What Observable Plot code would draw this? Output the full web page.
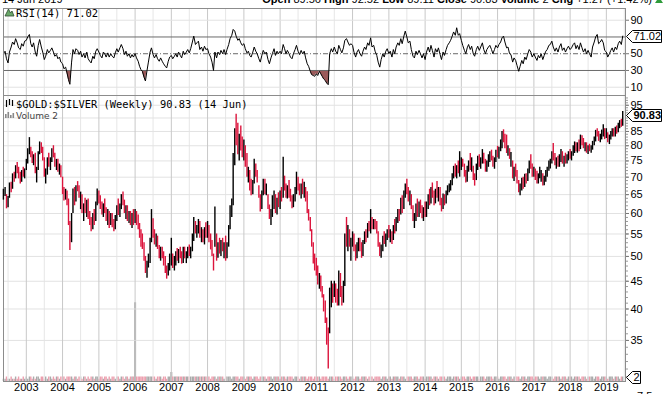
<!DOCTYPE html>
<html>
<head>
<meta charset="utf-8">
<script src="https://cdn.jsdelivr.net/npm/d3@7"></script>
<script src="https://cdn.jsdelivr.net/npm/@observablehq/plot@0.6"></script>
<style>
  html, body { margin: 0; padding: 0; background: #fff; }
  #chart { position: relative; width: 665px; height: 394px; overflow: hidden; background: #fff; }
  #chart svg { position: absolute !important; left: 0; top: 0; background: transparent !important; max-width: none !important; }
</style>
</head>
<body>
<div id="chart"></div>
<script>
// ---------- DATA (semi-monthly) ----------
const yearLabels = [2003,2004,2005,2006,2007,2008,2009,2010,2011,2012,2013,2014,2015,2016,2017,2018,2019];
const priceTicks = [35,40,45,50,55,60,65,70,75,80,85,95];
const priceGrid  = [35,40,45,50,55,60,65,70,75,80,85,90,95];
const rsiTicks = [90,50,30,10];
const rsiBands = [30,70];
const rsiMid = [50];
const rsiGrid = [10,90];

const lows = [
 63.5,64.5,61.2,61.5,64,65.5,66.5,68.5,69.5,71,69.5,68,68.5,70,69.5,
 72,74,77,76,74.2,73.5,71,68.3,72,77,77.4,75,70,68,70.6,73,72,74.5,76,73,72,71.5,70.6,69.8,
 65,63.3,63.5,62,57,51.3,53,60,62,63,65.8,64,61,60,58,60,59,58.5,57,55.5,56,57,58,62,
 62.5,61,59.6,59,60,58,57,56.3,57,56.5,55.5,56,58,59.5,59,61,62,60,58.5,58,57.5,57,56.3,57,
 57.5,57,56,54,52,51.5,49,46.5,45.6,47.6,48.5,53,54,52.5,52,51.5,49.5,49,49.5,48,46.5,45.4,46,47,
 48,47.5,47,48,49,48.5,49.5,48.4,48.5,49.5,48.5,49.5,50,49.5,51,53.3,55,54,55,54,53,53,52.5,54,
 54,53,51.4,50,47,52,49,49.6,50.5,50,51,49.5,49,49.5,52,56,59,62,73.5,80,77,75,78.2,76,
 75,73,70,68.3,66,64.7,65,68,70,68.3,64,60.4,61,64.7,65,64.7,61,58.5,57,59,61,60,59.6,61.5,
 61,63,64,66,64,63.8,64,63,61.2,61.5,63,65,66,64.7,63.8,65,64,63,60,58.1,55.5,52,48.4,47,
 46,44.3,43.5,43,41.9,39.5,37.6,34.3,31,36,40.2,41,42,41,40.5,40.5,42,40.5,41,44,52,51,52,49,
 52,51,49,49.5,51,51,49.6,50,52.6,53,54,55.5,55,56,56,56,55,52,50,49.6,51,52.6,52,53.5,
 54,53,52.6,53.5,55,55.5,57.5,58,59.6,60,61,64,65,63,62,61,58,56.3,58,59,59,60,58.7,58,
 59,59,61,62,62.5,64,62,62.5,64,63,62,60.4,61,62,62.5,64.7,65.5,66,67.5,69.5,70,69.5,71,70,
 72,73,70,68.3,68.5,71.5,72,71.5,69,67.4,69,72,73,72.4,74,74,71.5,71.5,73,74.5,75,73,72.4,74.5,
 76,75.5,78,79,81,79,77.4,76.5,75.5,73,69.5,68.7,70,68,65.5,64.7,66,66.5,67,68,68.7,71,72.4,70,
 70,69,68,68,69.5,68.5,67.4,67.5,68.5,70,71.8,72.5,74,75,73.5,72.4,73,73,74.5,74,73,74,74,75,
 75.5,75,76.5,77.4,78,77.5,78,78.7,80,79,78,77.5,77.1,78,77.5,78.5,80,81.3,83,81.5,81,82,83,82.1,
 82.5,81,80.4,82,83,83,83,84,84.5,86,86.5,86.9
];
const highs = [
 66.5,67,65,64.5,68.3,68.5,71,71.5,73.5,74.5,73,71.5,72,73,72.5,
 75.5,79,82.8,79.5,78,77,77.5,73,78,81.3,81,79.5,76,72.5,76,77.5,76,79,80,77.5,75.5,75.5,74,73.5,
 70,67,66.5,66,63.8,58,60,66.6,67,67.5,68.7,67.5,65.7,65,62.5,64,63.5,63.8,60.5,59,60,61,63,66.6,
 66,64.7,63,62.5,63.8,61.5,61,60.5,60,60,58.5,59.5,62,63.8,62.5,65,65.7,63.5,62,62,60.5,60.5,60,61,
 61,60.5,59.6,57.5,56,55,53,50,49,50.5,54,61,58.7,56,55,54.5,52.4,52,52,51,50,48,48.5,50.5,
 54,50.5,50,51,51.7,51.5,52,51,52,52,51,52,52.5,52,55,59,58,57,58.5,58,56.5,56,56.5,57.7,
 58,57,55,53.5,50.5,61.7,55,53,54,53.5,54,53,54.5,53,57,62,63.8,77.4,86,91.4,88,84,87,83,
 82,80,77.4,73,72,69.4,69,75.5,74,72,67.5,65,66,69.4,69.4,68,65,62.2,61,64.7,66,65,64,65.5,
 66,67,76.2,70.3,68,67.5,69,66.5,64.7,65,67,71.5,70,68,68,69.4,68.5,67,65.8,61,59,56,53,50.5,
 49.6,48,46.5,46,44,42.5,41.4,38.5,36.9,43.7,45,44.5,45,44.5,43.5,47,46.5,44,45,55,59,57,56,54,
 55.5,55,52.5,53,54,54,53,53.5,55.5,56,57.5,58,61,59,58.5,58.5,58,55.5,53,52.5,54.5,55.5,55,56,
 57,56,55.5,57,58.5,59,61,61,64,64.7,66,68,69.4,67,66,65,62,60,62.5,63.8,63,63.5,62,61.5,
 63,63,65,66.5,67,68.3,66,66.5,68.7,67,67,64,65.2,65,66,67.5,68,69,71,73.3,74,73.5,75,78,
 76,75.5,74,72,73.3,75,77.4,76,73.3,71,74,76.5,77,76,78.7,77.5,75.5,75,77,78,78.5,76.5,76,78.5,
 79.8,79.5,82,85,85.6,84,83.7,80,79,77.7,75,73,74,72,69,68,69.7,70,70.9,71,72.5,75,77,74,
 73,72.5,71.8,71,73,72,71,70.3,72,73,75,75.5,78,80.8,77.4,76,76.5,77,78.7,78,76.5,77.5,77,78,
 78.7,78,80,81.3,81,81,82,83.7,83.5,82.5,81,81,80,80.5,80,81.5,83,85.4,86,85,84,85.5,87.5,86,
 86,84.5,83.7,85,86,86,86.5,87,88,89,89.5,92.5
];
const closes = [
 65.5,66.5,62,64,67.5,66.5,70.5,69.5,73,72,70,69,71.5,70.5,72,
 75,78.5,79,76.5,75,76,72,72.5,77.5,80.5,78,76,71,71.5,75.5,74,75.5,78.5,77,74.5,75,72,73.5,71,
 66,64,65.5,62.5,58,53,59.5,65.5,63,67,66.5,64.5,65,61,62,60.5,63,59.5,58,56.5,59.5,58,62.5,64,
 63,62,60,62,61,59,60.5,57,59.5,57,56.5,59,61.5,60,62,64.5,63,60.5,61.5,58.5,60,57.5,59.5,58,
 59.5,57.5,56.5,54.5,53,52,49.5,47,48.5,50,53.5,57,55,53,54.5,52,51.5,51.8,50,49,47,46,48,49.5,
 50,48,49.5,50.5,49.5,51,50,49,51.5,50,50.5,51.5,50.5,51.5,54.5,57,55.5,56.5,57.5,54.5,55.5,53.5,56,55,
 56.5,53.5,52,51,48,56,50,52.5,51,53,51.5,52.5,50,52.5,56.5,61.5,63,75,84,82,79,82.5,80,78,
 80,74,71,72,67,66,68.5,73,71,69,64.5,62,65.5,68,66,67.5,61.5,59,60.5,62,65.5,61,63.5,62.5,
 65.5,64,69,67,64.5,67,65,63.5,62,64.5,66.5,70,67,65.5,67.5,66,68,63.5,60.5,58.5,56,52.5,50,48,
 47,45,46,43.5,42.5,40,38,35,32.7,41,42.5,41.5,44.5,42,41,46,43,41.5,44.5,54,53,55.5,52.5,53.5,
 54.5,51.5,50,52.5,53.5,51.5,50.5,53,55,54,57,56.5,57.5,56.5,58,56.5,55.5,52.5,50.5,52,54,53,54.5,55.5,
 54.5,55.5,53.5,56.5,56,58.5,60.5,59,63,61,65.5,67.5,66,64,65.5,61.5,58.5,59.5,62,60,62.5,61,59.5,61,
 59.5,62.5,64.5,63,66.5,65,62.5,66,65,66.5,63,61,64.5,63,65.5,67,67.5,68.5,70.5,72.5,71,73,72,74.5,
 75.5,73.5,71,69,72.5,74.5,73,75,70,69,73.5,75.5,74,75.5,78,74.5,72,74.5,76.5,77.5,76,73.5,75.5,78,
 77,79,81.5,84,82,80.5,78,79.5,76,76.5,70,72.5,71,68.5,66,67.5,69,67,70.5,69,72,74.5,73.5,71,
 72.5,70,68.5,70.5,71,71.5,68,69.5,71.5,72.5,74.5,75,77.5,76,74,75.5,73.5,76.5,78,75,76,74.5,76.5,77.5,
 77,77.5,79.5,80.5,78.5,80.5,79,82.5,81,79.5,80.5,78,79.5,78.5,79.5,81,82.5,84.5,83.5,82,83.5,85,86,84,
 84.5,82,83,84.5,85.5,83.5,86,85,87.5,88.5,87.5,90.83
];
const rsi14 = [
 50,53,44,39,52,58,64,61,68,63,57,55,62,59,65,
 66,70,73,62,58,63,52,47,60,67,58,52,43,47,55,51,54,57,52,47,49,44,46,40,
 38,32,34,27,19,13.5,40,55,50,56,54,49,53,46,50,45,52,44,41,39,47,44,53,56,
 52,48,45,52,50,46,51,46,50,47,45,51,56,52,57,61,56,49,53,47,50,45,49,46,
 50,45,41,35,31,29,22,17.5,30,40,52,57,49,45,49,44,41,45,41,38,35,33,41,46,
 48,44,47,50,46,52,48,45,53,49,52,55,51,56,64,71,61,63,65,55,58,53,59,55,
 56,50,46,40,30,52,45,52,49,54,50,55,49,55,61,68,72,79,77,71,66,68,63,60,
 62,56,51,53,48,46,52,58,53,50,44,40,48,54,50,52,43,38,45,50,56,48,53,50,
 53,50,61,56,50,54,50,46,44,50,55,60,53,49,54,50,53,45,38,35,29,25,24,23,
 26,24,29,26,23,20,18,15,13,50,56,52,58,53,50,60,55,51,57,66,68,64,60,62,
 60,52,46,52,55,50,47,53,58,55,63,60,69,58,60,53,48,40,34,43,50,46,53,56,
 50,53,46,55,50,58,63,60,68,62,71,77,70,63,65,55,47,45,53,49,54,50,45,50,
 43,52,58,52,60,54,46,56,52,57,49,43,52,48,55,60,63,66,71,76,72,81,72,74,
 66,60,54,50,57,61,55,59,50,47,55,59,54,58,63,55,50,55,58,60,55,50,55,60,
 57,61,64,69,71,64,57,58,50,49,40,45,42,36,29,35,42,38,46,43,50,55,52,46,
 50,46,42,48,45,50,43,48,53,55,60,61,65,58,53,57,52,58,62,54,57,52,56,59,
 55,57,61,63,56,60,55,63,57,52,56,50,54,50,46,58,64,70,73,62,64,67,63,54,
 52,46,50,54,57,52,58,55,62,65,61,71.02
];
const volume = [
 1,1,2,1,1,2,1,1,2,1,2,1,1,2,1,
 2,1,2,2,1,2,1,2,2,1,2,2,1,2,1,2,2,1,2,1,2,2,1,2,
 2,2,1,2,2,2,2,1,2,2,1,2,2,1,2,2,1,2,1,2,2,1,2,2,
 1,2,2,1,2,2,1,2,1,2,2,1,2,2,1,2,2,1,2,2,1,2,2,2,
 35,2,2,2,2,2,2,2,2,2,2,2,2,2,1,2,2,2,1,2,2,1,2,2,
 4,2,2,2,2,2,2,2,2,2,2,2,2,2,2,2,2,2,2,2,2,2,2,2,
 2,2,1,2,2,2,1,2,2,2,2,1,2,2,2,2,1,2,2,2,2,1,2,2,
 2,1,2,2,2,2,1,2,2,2,1,2,2,2,2,1,2,2,2,1,2,2,2,2,
 1,2,2,2,1,2,2,2,2,1,2,2,2,1,2,2,2,2,1,2,2,2,1,2,
 2,2,2,1,2,2,2,2,1,2,2,2,1,2,2,2,2,1,2,2,2,1,2,2,
 2,1,2,2,2,1,2,2,2,2,1,2,2,2,1,2,2,2,2,1,2,2,2,1,
 2,2,1,2,2,2,2,1,2,2,2,1,2,2,2,2,1,2,2,2,1,2,2,2,
 1,2,2,2,2,1,2,2,2,1,2,2,2,2,1,2,2,2,1,2,2,2,2,1,
 2,2,2,1,2,2,2,1,2,2,2,2,1,2,2,2,1,2,2,2,2,1,2,2,
 2,1,2,2,2,2,1,2,2,2,1,2,2,2,2,1,2,2,2,1,2,2,2,2,
 1,2,2,2,1,2,2,2,2,1,2,2,2,1,2,2,2,2,1,2,2,2,1,2,
 2,2,1,2,2,2,2,1,2,2,2,1,2,2,2,2,1,2,2,2,1,2,2,2,
 2,1,2,2,2,1,2,2,2,1,2,2
];

// period dates: 1st and 15th of each month, 15 May 2002 .. 15 Jun 2019
const dates = [];
for (let y = 2002; y <= 2019; y++) for (let m = 0; m < 12; m++) for (const d of [1, 15]) {
  const t = Date.UTC(y, m, d);
  if (t >= Date.UTC(2002, 4, 15) && t <= Date.UTC(2019, 5, 15)) dates.push(new Date(t));
}

const n = Math.min(dates.length, lows.length, highs.length, closes.length, rsi14.length, volume.length);
const bars = d3.range(n).map(i => ({
  date: dates[i], lo: lows[i], hi: highs[i], close: closes[i],
  up: i === 0 || closes[i] >= closes[i - 1], rsi: rsi14[i], vol: volume[i]
}));

// ---------- LAYOUT ----------
const W = 665, H = 394;
const xDomain = [new Date(Date.UTC(2002, 4, 16)), new Date(Date.UTC(2019, 6, 13))];
const yearTicks = yearLabels.map(y => new Date(Date.UTC(y, 0, 1)));
const midYears = d3.range(2002, 2020).map(y => new Date(Date.UTC(y, 6, 1)));
const FONT = "'Liberation Sans', Arial, sans-serif";
const style = {background: "transparent", fontFamily: FONT, fontSize: "11px", overflow: "visible"};
const RED = "#dc143c";
const chart = document.getElementById("chart");

// RSI panel
const rsiPlot = Plot.plot({
  width: W, height: H, marginTop: 8, marginBottom: H - 95, marginLeft: 3, marginRight: 40,
  style, color: {type: "identity"},
  x: {type: "utc", domain: xDomain, axis: null, label: null},
  y: {domain: [0, 100], range: [95.1, 11.35], axis: null, label: null},
  marks: [
    Plot.ruleX(midYears, {stroke: "#e6e6e6"}),
    Plot.ruleX(yearTicks, {stroke: "#c8c8c8"}),
    Plot.ruleY(rsiGrid, {stroke: "#e2e2e2"}),
    Plot.areaY(bars, {x: "date", y1: () => 30, y2: d => Math.min(d.rsi, 30), fill: "#9b5a5a"}),
    Plot.ruleY(rsiBands, {stroke: "#6a6a6a"}),
    Plot.ruleY(rsiMid, {stroke: "#6a6a6a", strokeDasharray: "5,2,1,2"}),
    Plot.lineY(bars, {x: "date", y: "rsi", stroke: "#000", strokeWidth: 1}),
    Plot.frame({stroke: "#8c8c8c"}),
    Plot.axisY({anchor: "right", label: null, ticks: rsiTicks, tickSize: 3, tickPadding: 2, tickFormat: d => String(d), stroke: "#777", fill: "#000"})
  ]
});

// Volume overlay (bottom of price panel)
const volPlot = Plot.plot({
  width: W, height: H, marginTop: 95, marginBottom: 13, marginLeft: 3, marginRight: 40,
  style, color: {type: "identity"},
  x: {type: "utc", domain: xDomain, axis: null, label: null},
  y: {domain: [0, 100], range: [381, 156], axis: null, label: null},
  marks: [
    Plot.ruleX(bars, {x: "date", y1: () => 0, y2: "vol", stroke: d => d.up ? "#aaaaaa" : "#ec9fae", strokeWidth: d => d.vol > 3 ? 2 : 1.4})
  ]
});

// Price panel
const pricePlot = Plot.plot({
  width: W, height: H, marginTop: 95, marginBottom: 13, marginLeft: 3, marginRight: 40,
  style, color: {type: "identity"},
  x: {type: "utc", domain: xDomain, label: null},
  y: {type: "log", domain: [29.4, 98.6], range: [381, 96], label: null},
  marks: [
    Plot.ruleX(midYears, {stroke: "#e6e6e6"}),
    Plot.ruleY(priceGrid, {stroke: "#e2e2e2"}),
    Plot.ruleX(yearTicks, {stroke: "#c8c8c8"}),
    Plot.frame({stroke: "#8c8c8c"}),
    Plot.ruleX(bars, {x: "date", y1: "lo", y2: "hi", stroke: d => d.up ? "#000" : RED, strokeWidth: 1.4}),
    Plot.axisY({anchor: "right", label: null, ticks: d3.range(30, 99), tickSize: 2, tickFormat: () => "", stroke: "#9a9a9a"}),
    Plot.axisY({anchor: "right", label: null, ticks: priceTicks, tickSize: 3, tickPadding: 2, tickFormat: d => String(d), stroke: "#777", fill: "#000"}),
    Plot.axisX({label: null, ticks: yearTicks, tickFormat: d => String(d.getUTCFullYear()), tickSize: 0, tickPadding: 2, fill: "#000"})
  ]
});

chart.append(rsiPlot, volPlot, pricePlot);

// ---------- overlay: header, panel labels, value tags ----------
const ov = d3.create("svg").attr("width", W).attr("height", H).attr("font-family", FONT)
  .style("position", "absolute").style("left", "0").style("top", "0").style("overflow", "visible");

ov.append("text").attr("x", 2).attr("y", 3).attr("font-size", 11).text("14 Jun 2019");
const hdr = ov.append("text").attr("x", 652).attr("y", 3).attr("font-size", 11).attr("text-anchor", "end");
[["Open", " 89.56 "], ["High", " 92.52 "], ["Low", " 89.11 "], ["Close", " 90.83 "], ["Volume", " 2 "], ["Chg", " +1.27 (+1.42%)"]]
  .forEach(([k, v]) => { hdr.append("tspan").attr("font-weight", "bold").text(k); hdr.append("tspan").text(v); });
ov.append("path").attr("d", "M655,3L659,-3L663,3Z").attr("fill", "#2e9b3a");

// icons
ov.append("path").attr("d", "M5,16L8.5,9L10.5,13L12,11L14,16Z").attr("fill", "#6aa86a").attr("stroke", "#2d4d2d").attr("stroke-width", 0.8);
const ic = ov.append("g").attr("stroke-width", 1.2);
ic.append("line").attr("x1", 6.5).attr("x2", 6.5).attr("y1", 100).attr("y2", 107).attr("stroke", "#000");
ic.append("line").attr("x1", 9.5).attr("x2", 9.5).attr("y1", 99).attr("y2", 105).attr("stroke", "#000");
ic.append("line").attr("x1", 12.5).attr("x2", 12.5).attr("y1", 100).attr("y2", 106).attr("stroke", "#000");
[[6,114,4],[8.5,112,6],[11,115,3],[13.5,113,5]].forEach(([x, y, h]) =>
  ov.append("rect").attr("x", x - 1).attr("y", y).attr("width", 1.6).attr("height", h).attr("fill", "#888"));

ov.append("text").attr("x", 16).attr("y", 16.5).attr("font-family", "'DejaVu Sans Mono', monospace").attr("font-size", 10.5).text("RSI(14) 71.02");
ov.append("text").attr("x", 16).attr("y", 107.5).attr("font-family", "'DejaVu Sans Mono', monospace").attr("font-size", 10.4).text("$GOLD:$SILVER (Weekly) 90.83 (14 Jun)");
ov.append("text").attr("x", 16).attr("y", 118.5).attr("font-family", "'DejaVu Sans', sans-serif").attr("font-size", 9).attr("fill", "#444").text("Volume 2");

function tag(x, y, w, label, bold) {
  y = Math.round(y) + 0.5;
  ov.append("path").attr("d", `M${x + 0.5},${y}L${x + 6.5},${y - 6}H${x + w + 0.5}V${y + 6}H${x + 6.5}Z`)
    .attr("fill", "#fff").attr("stroke", "#000");
  ov.append("text").attr("x", x + 7.5).attr("y", y).attr("dy", "0.36em").attr("font-size", 11)
    .attr("font-weight", bold ? "bold" : "normal").text(label);
}
tag(626, rsiPlot.scale("y").apply(71.02), 35, "71.02", false);
tag(626, pricePlot.scale("y").apply(90.83), 35, "90.83", true);
tag(626, volPlot.scale("y").apply(2), 14, "2", false);
ov.append("text").attr("x", 637).attr("y", 400).attr("font-size", 11).text("7.5");

chart.append(ov.node());
</script>
</body>
</html>
